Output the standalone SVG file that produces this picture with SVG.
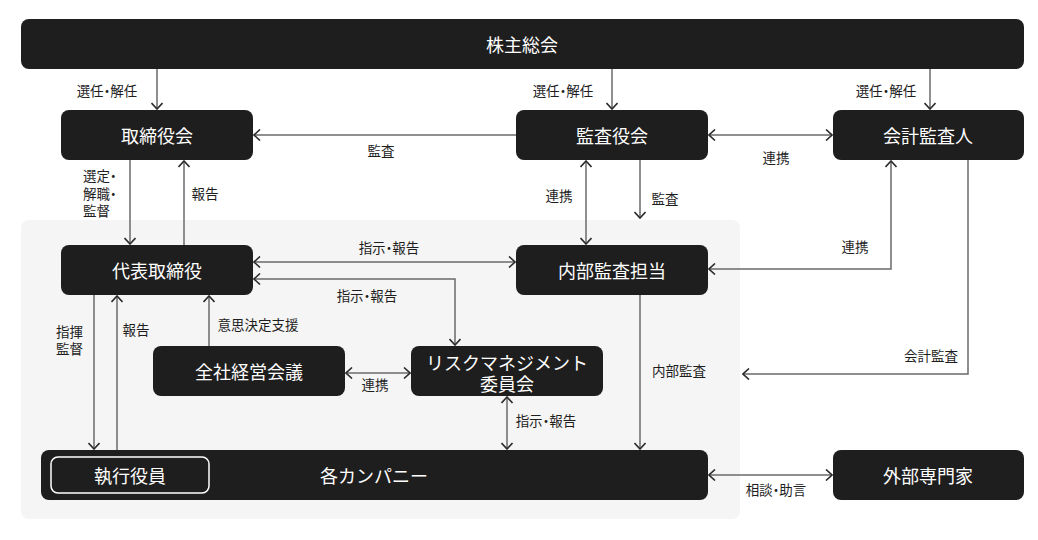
<svg xmlns="http://www.w3.org/2000/svg" width="1038" height="540" viewBox="0 0 1038 540">
<style>
text{font-family:"Noto Sans CJK JP","Noto Sans",sans-serif;dominant-baseline:central}
.box{fill:#1e1e1e}
.nt{fill:#ffffff;font-size:18px;text-anchor:middle}
.lb{fill:#1e1e1e;font-size:13.5px;text-anchor:middle;font-feature-settings:"palt"}
.ls{text-anchor:start}
.cn path{fill:none;stroke:#6a6a6a;stroke-width:1.5}
</style>
<defs>
<marker id="a" viewBox="0 0 12 12" refX="11" refY="6" markerWidth="12" markerHeight="12" orient="auto-start-reverse" markerUnits="userSpaceOnUse">
<path d="M5,0.5 L11,6 L5,11.5" fill="none" stroke="#2a2a2a" stroke-width="1.6"/>
</marker>
</defs>
<rect x="0" y="0" width="1038" height="540" fill="#ffffff"/>
<rect id="group-area" x="21" y="220" width="719" height="299" rx="8" fill="#f5f5f5"/>

<g id="connectors" class="cn">
<path d="M157,69 V109" marker-end="url(#a)"/>
<path d="M612,69 V109" marker-end="url(#a)"/>
<path d="M930,69 V109" marker-end="url(#a)"/>
<path d="M516,135 H254" marker-end="url(#a)"/>
<path d="M709,135 H832" marker-start="url(#a)" marker-end="url(#a)"/>
<path d="M130,160 V244" marker-end="url(#a)"/>
<path d="M184,245 V161" marker-end="url(#a)"/>
<path d="M586,161 V244" marker-start="url(#a)" marker-end="url(#a)"/>
<path d="M640,160 V218" marker-end="url(#a)"/>
<path d="M254,262 H515" marker-start="url(#a)" marker-end="url(#a)"/>
<path d="M254,279 H455 V345" marker-start="url(#a)" marker-end="url(#a)"/>
<path d="M709,269 H891 V161" marker-start="url(#a)" marker-end="url(#a)"/>
<path d="M968,160 V374 H743" marker-end="url(#a)"/>
<path d="M640,295 V449" marker-end="url(#a)"/>
<path d="M94,295 V449" marker-end="url(#a)"/>
<path d="M117,450 V296" marker-end="url(#a)"/>
<path d="M209,346 V296" marker-end="url(#a)"/>
<path d="M346,373 H410" marker-start="url(#a)" marker-end="url(#a)"/>
<path d="M507,397 V449" marker-start="url(#a)" marker-end="url(#a)"/>
<path d="M709,475 H832" marker-start="url(#a)" marker-end="url(#a)"/>
</g>

<g id="edge-labels">
<text class="lb" x="107" y="90">選任・解任</text>
<text class="lb" x="563" y="90">選任・解任</text>
<text class="lb" x="886" y="90">選任・解任</text>
<text class="lb" x="381" y="150">監査</text>
<text class="lb" x="776" y="157">連携</text>
<text class="lb ls" x="83" y="175"><tspan x="83" y="175">選定・</tspan><tspan x="83" y="193">解職・</tspan><tspan x="83" y="210">監督</tspan></text>
<text class="lb" x="205" y="193">報告</text>
<text class="lb" x="559" y="195">連携</text>
<text class="lb" x="665" y="198">監査</text>
<text class="lb" x="389" y="247">指示・報告</text>
<text class="lb" x="367" y="295">指示・報告</text>
<text class="lb" x="855" y="246">連携</text>
<text class="lb ls" x="56" y="331"><tspan x="56" y="331">指揮</tspan><tspan x="56" y="348">監督</tspan></text>
<text class="lb" x="136" y="329">報告</text>
<text class="lb" x="258" y="324">意思決定支援</text>
<text class="lb" x="375" y="384">連携</text>
<text class="lb" x="679" y="370">内部監査</text>
<text class="lb" x="931" y="355">会計監査</text>
<text class="lb" x="546" y="420">指示・報告</text>
<text class="lb" x="776" y="489">相談・助言</text>
</g>

<g id="n-shareholders"><rect class="box" x="21" y="19" width="1003" height="50" rx="8"/><text class="nt" x="522" y="44">株主総会</text></g>
<g id="n-board"><rect class="box" x="61" y="110" width="192" height="50" rx="8"/><text class="nt" x="157" y="135">取締役会</text></g>
<g id="n-auditboard"><rect class="box" x="516" y="110" width="192" height="50" rx="8"/><text class="nt" x="612" y="135">監査役会</text></g>
<g id="n-accountant"><rect class="box" x="833" y="110" width="191" height="50" rx="8"/><text class="nt" x="928" y="135">会計監査人</text></g>
<g id="n-ceo"><rect class="box" x="61" y="245" width="192" height="50" rx="8"/><text class="nt" x="157" y="270">代表取締役</text></g>
<g id="n-internal"><rect class="box" x="516" y="245" width="192" height="50" rx="8"/><text class="nt" x="612" y="270">内部監査担当</text></g>
<g id="n-mgmt"><rect class="box" x="153" y="346" width="192" height="50" rx="8"/><text class="nt" x="249" y="371">全社経営会議</text></g>
<g id="n-risk"><rect class="box" x="411" y="346" width="192" height="50" rx="8"/><text class="nt" x="507" y="362"><tspan x="507" y="362">リスクマネジメント</tspan><tspan x="507" y="383">委員会</tspan></text></g>
<g id="n-companies"><rect class="box" x="41" y="450" width="667" height="50" rx="8"/><text class="nt" x="374" y="475">各カンパニー</text></g>
<g id="n-officers"><rect x="51" y="457" width="158" height="36" rx="7" fill="#1e1e1e" stroke="#ffffff" stroke-width="1.5"/><text class="nt" x="130" y="475">執行役員</text></g>
<g id="n-experts"><rect class="box" x="833" y="450" width="191" height="50" rx="8"/><text class="nt" x="928" y="475">外部専門家</text></g>
</svg>
